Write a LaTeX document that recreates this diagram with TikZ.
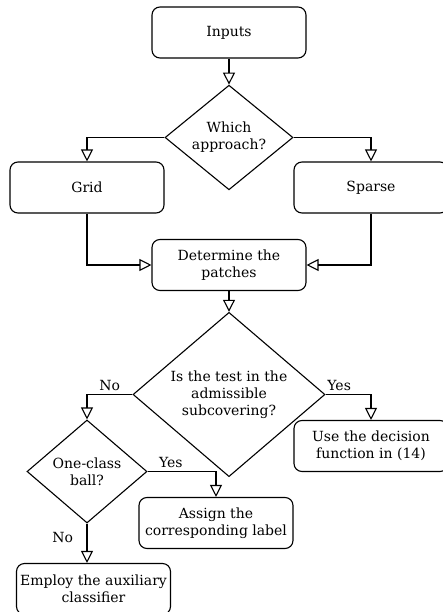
\documentclass[tikz,border=0pt]{standalone}
\usepackage{fontspec}
\setmainfont{DejaVu Serif}
\usetikzlibrary{positioning,arrows.meta,shapes.geometric,calc}

\begin{document}
\begin{tikzpicture}[x=1pt, y=-1pt, line width=1.1pt,
    font=\fontsize{14}{17}\selectfont,
    box/.style={draw, rounded corners=8pt, minimum width=154pt,
      minimum height=51pt, align=center, inner sep=2pt},
    decision/.style={draw, diamond, align=center, inner sep=0pt},
    arr/.style={-{Triangle[open, length=12pt, width=12pt]}}]
  % Page frame
  \useasboundingbox (0,0) rectangle (443,612);
  % Start and first choice
  \node[box] (inputs) at (229,32.5) {Inputs};
  \node[decision, minimum width=128pt, minimum height=103pt] (approach)
    at (229,137.5) {Which\\approach?};
  \node[box] (grid) at (87,187.5) {Grid};
  \node[box] (sparse) at (371,187.5) {Sparse};
  \node[box] (patches) at (229,265) {Determine the\\patches};
  % Second choice
  \node[decision, minimum width=192pt, minimum height=155pt] (test)
    at (229,394.5) {Is the test in the\\admissible\\subcovering?};
  \node[box] (decfun) at (371,446) {Use the decision\\function in (14)};
  \node[decision, minimum width=120pt, minimum height=103pt] (ball)
    at (87,471.5) {One-class\\ball?};
  \node[box] (assign) at (216,523) {Assign the\\corresponding label};
  \node[box] (employ) at (93.5,589) {Employ the auxiliary\\classifier};
  % Connectors
  \draw[arr] (inputs) -- (approach);
  \draw[arr] (approach.west) -| (grid.north);
  \draw[arr] (approach.east) -| (sparse.north);
  \draw[arr] (grid.south) |- (patches.west);
  \draw[arr] (sparse.south) |- (patches.east);
  \draw[arr] (patches) -- (test);
  \draw[arr] (test.west) -| node[pos=0.25, above] {No} (ball.north);
  \draw[arr] (test.east) -| node[pos=0.15, above] {Yes} (decfun.north);
  \draw[arr] (ball.east) -| node[pos=0.17, above] {Yes} (assign.north);
  \draw[arr] (ball.south) -- node[pos=0.35, left, xshift=-10pt] {No}
    (ball.south |- employ.north);
\end{tikzpicture}
\end{document}
